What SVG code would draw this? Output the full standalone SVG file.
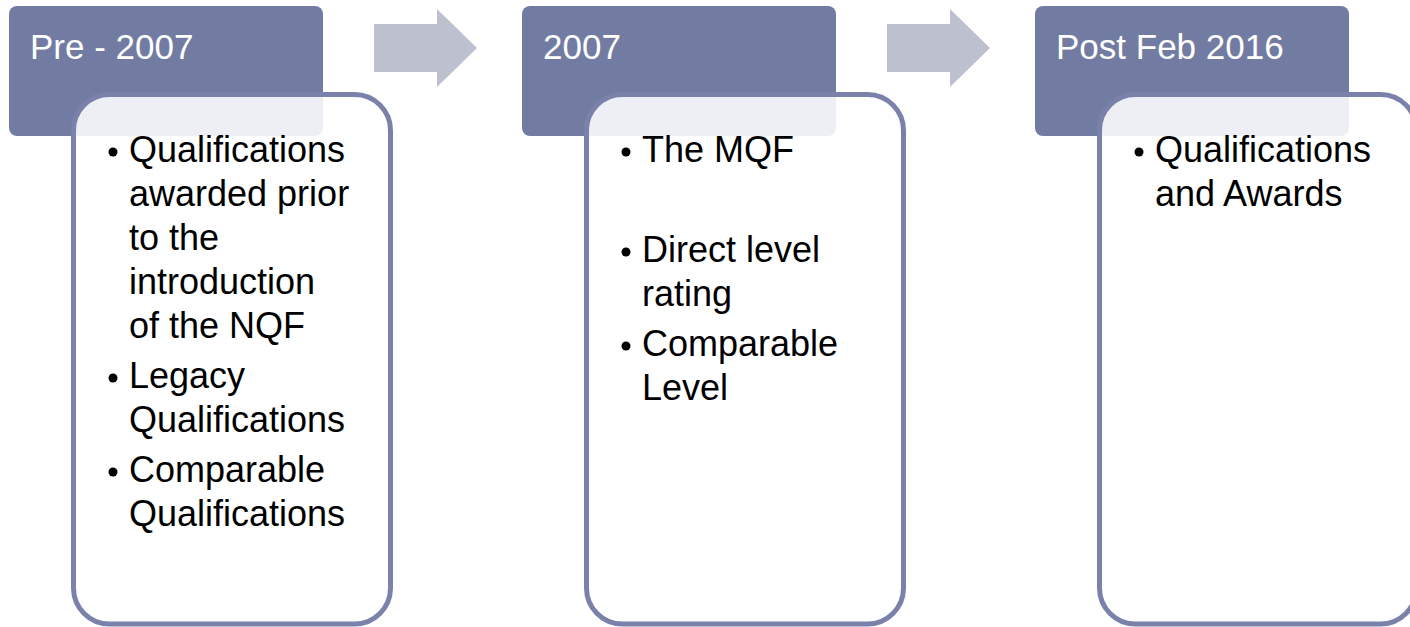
<svg xmlns="http://www.w3.org/2000/svg" width="1410" height="627" viewBox="0 0 1410 627">
<style>
.hdr{fill:#727CA3}
.box{fill:#FFFFFF;fill-opacity:0.88;stroke:#7A82AB;stroke-width:5}
.arrow{fill:#BCC0CF}
.ht{font-family:"Liberation Sans",Arial,sans-serif;font-size:35px;fill:#FFFFFF}
.bt{font-family:"Liberation Sans",Arial,sans-serif;font-size:36px;fill:#000000}
.dot{fill:#000000}
</style>
<rect width="1410" height="627" fill="#FFFFFF"/>
<g id="connectors">
<polygon class="arrow" points="374,24 437,24 437,9 477,48 437,87 437,72 374,72"/>
<polygon class="arrow" points="887,24 950,24 950,9 990,48 950,87 950,72 887,72"/>
</g>
<g id="node-pre2007">
<rect class="hdr" x="9" y="6" width="314" height="130" rx="8"/>
<text class="ht" x="30" y="59">Pre - 2007</text>
<rect class="box" x="73.5" y="94.5" width="317" height="529.5" rx="36"/>
<circle class="dot" cx="113" cy="152" r="4.5"/>
<circle class="dot" cx="113" cy="378" r="4.5"/>
<circle class="dot" cx="113" cy="472" r="4.5"/>
<text class="bt">
<tspan x="129" y="162">Qualifications</tspan>
<tspan x="129" y="206">awarded prior</tspan>
<tspan x="129" y="250">to the</tspan>
<tspan x="129" y="294">introduction</tspan>
<tspan x="129" y="338">of the NQF</tspan>
<tspan x="129" y="388">Legacy</tspan>
<tspan x="129" y="432">Qualifications</tspan>
<tspan x="129" y="482">Comparable</tspan>
<tspan x="129" y="526">Qualifications</tspan>
</text>
</g>
<g id="node-2007">
<rect class="hdr" x="522" y="6" width="314" height="130" rx="8"/>
<text class="ht" x="543" y="59">2007</text>
<rect class="box" x="586.5" y="94.5" width="317" height="529.5" rx="36"/>
<circle class="dot" cx="626" cy="152" r="4.5"/>
<circle class="dot" cx="626" cy="252" r="4.5"/>
<circle class="dot" cx="626" cy="346" r="4.5"/>
<text class="bt">
<tspan x="642" y="162">The MQF</tspan>
<tspan x="642" y="262">Direct level</tspan>
<tspan x="642" y="306">rating</tspan>
<tspan x="642" y="356">Comparable</tspan>
<tspan x="642" y="400">Level</tspan>
</text>
</g>
<g id="node-post2016">
<rect class="hdr" x="1035" y="6" width="314" height="130" rx="8"/>
<text class="ht" x="1056" y="59">Post Feb 2016</text>
<rect class="box" x="1099.5" y="94.5" width="317" height="529.5" rx="36"/>
<circle class="dot" cx="1139" cy="152" r="4.5"/>
<text class="bt">
<tspan x="1155" y="162">Qualifications</tspan>
<tspan x="1155" y="206">and Awards</tspan>
</text>
</g>
</svg>
